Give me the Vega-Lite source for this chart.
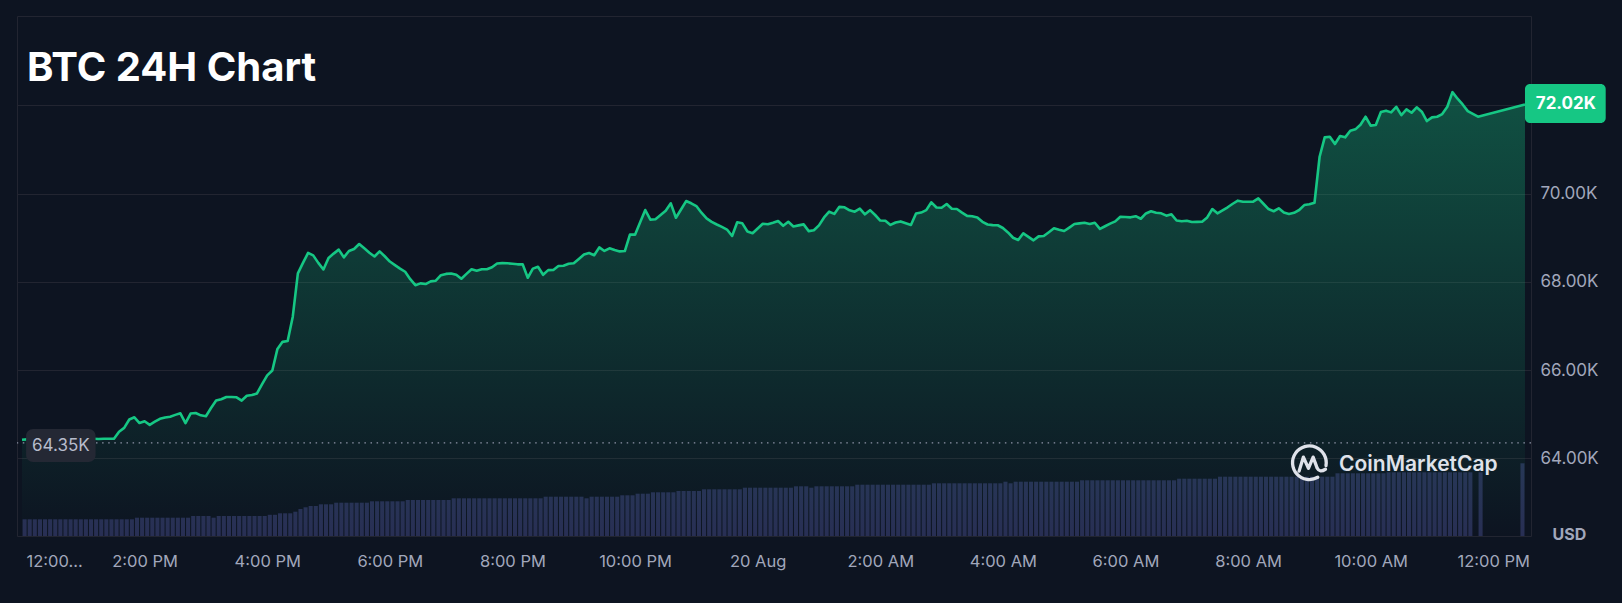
{
  "$schema": "https://vega.github.io/schema/vega-lite/v6.json",
  "width": 1514,
  "height": 520,
  "autosize": {"type": "none"},
  "padding": {"left": 17, "top": 16, "right": 91, "bottom": 67},
  "background": "#0d1421",
  "config": {
    "view": {"stroke": "#222531", "strokeWidth": 1},
    "font": "Inter"
  },
  "title": {
    "text": "BTC 24H Chart",
    "anchor": "start",
    "frame": "group",
    "orient": "top",
    "offset": 0,
    "baseline": "alphabetic",
    "dx": 10,
    "dy": 105,
    "font": "Inter",
    "fontSize": 40,
    "fontWeight": 700,
    "color": "#ffffff"
  },
  "data": {
    "values": [
      {"t": "2024-08-19T12:00", "p": 64420, "v": 4.18},
      {"t": "2024-08-19T12:05", "p": 64430, "v": 4.18},
      {"t": "2024-08-19T12:10", "p": 64440, "v": 4.18},
      {"t": "2024-08-19T12:15", "p": 64435, "v": 4.18},
      {"t": "2024-08-19T12:20", "p": 64440, "v": 4.18},
      {"t": "2024-08-19T12:25", "p": 64450, "v": 4.18},
      {"t": "2024-08-19T12:30", "p": 64445, "v": 4.18},
      {"t": "2024-08-19T12:35", "p": 64440, "v": 4.18},
      {"t": "2024-08-19T12:40", "p": 64445, "v": 4.18},
      {"t": "2024-08-19T12:45", "p": 64450, "v": 4.18},
      {"t": "2024-08-19T12:50", "p": 64445, "v": 4.18},
      {"t": "2024-08-19T12:55", "p": 64440, "v": 4.18},
      {"t": "2024-08-19T13:00", "p": 64445, "v": 4.18},
      {"t": "2024-08-19T13:05", "p": 64450, "v": 4.18},
      {"t": "2024-08-19T13:10", "p": 64445, "v": 4.18},
      {"t": "2024-08-19T13:15", "p": 64440, "v": 4.18},
      {"t": "2024-08-19T13:20", "p": 64445, "v": 4.18},
      {"t": "2024-08-19T13:25", "p": 64445, "v": 4.18},
      {"t": "2024-08-19T13:30", "p": 64445, "v": 4.18},
      {"t": "2024-08-19T13:35", "p": 64604, "v": 4.18},
      {"t": "2024-08-19T13:40", "p": 64690, "v": 4.18},
      {"t": "2024-08-19T13:45", "p": 64880, "v": 4.18},
      {"t": "2024-08-19T13:50", "p": 64930, "v": 4.58},
      {"t": "2024-08-19T13:55", "p": 64800, "v": 4.58},
      {"t": "2024-08-19T14:00", "p": 64840, "v": 4.58},
      {"t": "2024-08-19T14:05", "p": 64760, "v": 4.58},
      {"t": "2024-08-19T14:10", "p": 64830, "v": 4.58},
      {"t": "2024-08-19T14:15", "p": 64895, "v": 4.58},
      {"t": "2024-08-19T14:20", "p": 64925, "v": 4.58},
      {"t": "2024-08-19T14:25", "p": 64944, "v": 4.58},
      {"t": "2024-08-19T14:30", "p": 64985, "v": 4.58},
      {"t": "2024-08-19T14:35", "p": 65021, "v": 4.58},
      {"t": "2024-08-19T14:40", "p": 64800, "v": 4.58},
      {"t": "2024-08-19T14:45", "p": 65015, "v": 5.0},
      {"t": "2024-08-19T14:50", "p": 65027, "v": 5.0},
      {"t": "2024-08-19T14:55", "p": 64975, "v": 5.0},
      {"t": "2024-08-19T15:00", "p": 64955, "v": 5.0},
      {"t": "2024-08-19T15:05", "p": 65140, "v": 4.58},
      {"t": "2024-08-19T15:10", "p": 65310, "v": 5.0},
      {"t": "2024-08-19T15:15", "p": 65340, "v": 5.0},
      {"t": "2024-08-19T15:20", "p": 65390, "v": 5.0},
      {"t": "2024-08-19T15:25", "p": 65390, "v": 5.0},
      {"t": "2024-08-19T15:30", "p": 65383, "v": 5.0},
      {"t": "2024-08-19T15:35", "p": 65310, "v": 5.0},
      {"t": "2024-08-19T15:40", "p": 65420, "v": 5.0},
      {"t": "2024-08-19T15:45", "p": 65435, "v": 5.0},
      {"t": "2024-08-19T15:50", "p": 65470, "v": 5.0},
      {"t": "2024-08-19T15:55", "p": 65680, "v": 5.0},
      {"t": "2024-08-19T16:00", "p": 65880, "v": 5.3},
      {"t": "2024-08-19T16:05", "p": 65990, "v": 5.3},
      {"t": "2024-08-19T16:10", "p": 66480, "v": 5.68},
      {"t": "2024-08-19T16:15", "p": 66640, "v": 5.68},
      {"t": "2024-08-19T16:20", "p": 66659, "v": 5.68},
      {"t": "2024-08-19T16:25", "p": 67210, "v": 6.08},
      {"t": "2024-08-19T16:30", "p": 68193, "v": 6.75},
      {"t": "2024-08-19T16:35", "p": 68430, "v": 7.18},
      {"t": "2024-08-19T16:40", "p": 68655, "v": 7.5},
      {"t": "2024-08-19T16:45", "p": 68600, "v": 7.5},
      {"t": "2024-08-19T16:50", "p": 68430, "v": 7.93},
      {"t": "2024-08-19T16:55", "p": 68280, "v": 7.93},
      {"t": "2024-08-19T17:00", "p": 68540, "v": 7.93},
      {"t": "2024-08-19T17:05", "p": 68640, "v": 8.33},
      {"t": "2024-08-19T17:10", "p": 68730, "v": 8.33},
      {"t": "2024-08-19T17:15", "p": 68556, "v": 8.33},
      {"t": "2024-08-19T17:20", "p": 68698, "v": 8.33},
      {"t": "2024-08-19T17:25", "p": 68744, "v": 8.33},
      {"t": "2024-08-19T17:30", "p": 68857, "v": 8.33},
      {"t": "2024-08-19T17:35", "p": 68760, "v": 8.33},
      {"t": "2024-08-19T17:40", "p": 68660, "v": 8.68},
      {"t": "2024-08-19T17:45", "p": 68575, "v": 8.68},
      {"t": "2024-08-19T17:50", "p": 68690, "v": 8.68},
      {"t": "2024-08-19T17:55", "p": 68580, "v": 8.68},
      {"t": "2024-08-19T18:00", "p": 68460, "v": 8.68},
      {"t": "2024-08-19T18:05", "p": 68380, "v": 8.68},
      {"t": "2024-08-19T18:10", "p": 68300, "v": 8.68},
      {"t": "2024-08-19T18:15", "p": 68229, "v": 9.0},
      {"t": "2024-08-19T18:20", "p": 68060, "v": 9.0},
      {"t": "2024-08-19T18:25", "p": 67925, "v": 9.0},
      {"t": "2024-08-19T18:30", "p": 67965, "v": 9.0},
      {"t": "2024-08-19T18:35", "p": 67950, "v": 9.0},
      {"t": "2024-08-19T18:40", "p": 68010, "v": 9.0},
      {"t": "2024-08-19T18:45", "p": 68026, "v": 9.0},
      {"t": "2024-08-19T18:50", "p": 68150, "v": 9.0},
      {"t": "2024-08-19T18:55", "p": 68180, "v": 9.0},
      {"t": "2024-08-19T19:00", "p": 68190, "v": 9.43},
      {"t": "2024-08-19T19:05", "p": 68160, "v": 9.43},
      {"t": "2024-08-19T19:10", "p": 68070, "v": 9.43},
      {"t": "2024-08-19T19:15", "p": 68180, "v": 9.43},
      {"t": "2024-08-19T19:20", "p": 68284, "v": 9.43},
      {"t": "2024-08-19T19:25", "p": 68252, "v": 9.43},
      {"t": "2024-08-19T19:30", "p": 68285, "v": 9.43},
      {"t": "2024-08-19T19:35", "p": 68285, "v": 9.43},
      {"t": "2024-08-19T19:40", "p": 68330, "v": 9.43},
      {"t": "2024-08-19T19:45", "p": 68415, "v": 9.43},
      {"t": "2024-08-19T19:50", "p": 68425, "v": 9.43},
      {"t": "2024-08-19T19:55", "p": 68420, "v": 9.43},
      {"t": "2024-08-19T20:00", "p": 68410, "v": 9.43},
      {"t": "2024-08-19T20:05", "p": 68397, "v": 9.43},
      {"t": "2024-08-19T20:10", "p": 68397, "v": 9.43},
      {"t": "2024-08-19T20:15", "p": 68093, "v": 9.43},
      {"t": "2024-08-19T20:20", "p": 68300, "v": 9.43},
      {"t": "2024-08-19T20:25", "p": 68343, "v": 9.43},
      {"t": "2024-08-19T20:30", "p": 68160, "v": 9.83},
      {"t": "2024-08-19T20:35", "p": 68265, "v": 9.83},
      {"t": "2024-08-19T20:40", "p": 68268, "v": 9.83},
      {"t": "2024-08-19T20:45", "p": 68360, "v": 9.83},
      {"t": "2024-08-19T20:50", "p": 68365, "v": 9.83},
      {"t": "2024-08-19T20:55", "p": 68410, "v": 9.83},
      {"t": "2024-08-19T21:00", "p": 68420, "v": 9.83},
      {"t": "2024-08-19T21:05", "p": 68520, "v": 9.83},
      {"t": "2024-08-19T21:10", "p": 68619, "v": 9.43},
      {"t": "2024-08-19T21:15", "p": 68653, "v": 9.83},
      {"t": "2024-08-19T21:20", "p": 68603, "v": 9.83},
      {"t": "2024-08-19T21:25", "p": 68782, "v": 9.83},
      {"t": "2024-08-19T21:30", "p": 68700, "v": 9.83},
      {"t": "2024-08-19T21:35", "p": 68760, "v": 9.83},
      {"t": "2024-08-19T21:40", "p": 68720, "v": 9.83},
      {"t": "2024-08-19T21:45", "p": 68690, "v": 10.18},
      {"t": "2024-08-19T21:50", "p": 68698, "v": 10.18},
      {"t": "2024-08-19T21:55", "p": 69070, "v": 10.18},
      {"t": "2024-08-19T22:00", "p": 69070, "v": 10.58},
      {"t": "2024-08-19T22:05", "p": 69350, "v": 10.58},
      {"t": "2024-08-19T22:10", "p": 69628, "v": 10.58},
      {"t": "2024-08-19T22:15", "p": 69410, "v": 10.93},
      {"t": "2024-08-19T22:20", "p": 69417, "v": 10.93},
      {"t": "2024-08-19T22:25", "p": 69514, "v": 10.93},
      {"t": "2024-08-19T22:30", "p": 69612, "v": 10.93},
      {"t": "2024-08-19T22:35", "p": 69779, "v": 10.93},
      {"t": "2024-08-19T22:40", "p": 69453, "v": 11.25},
      {"t": "2024-08-19T22:45", "p": 69640, "v": 11.25},
      {"t": "2024-08-19T22:50", "p": 69831, "v": 11.25},
      {"t": "2024-08-19T22:55", "p": 69780, "v": 11.25},
      {"t": "2024-08-19T23:00", "p": 69718, "v": 11.25},
      {"t": "2024-08-19T23:05", "p": 69566, "v": 11.68},
      {"t": "2024-08-19T23:10", "p": 69439, "v": 11.68},
      {"t": "2024-08-19T23:15", "p": 69360, "v": 11.68},
      {"t": "2024-08-19T23:20", "p": 69300, "v": 11.68},
      {"t": "2024-08-19T23:25", "p": 69245, "v": 11.68},
      {"t": "2024-08-19T23:30", "p": 69185, "v": 11.68},
      {"t": "2024-08-19T23:35", "p": 69040, "v": 11.68},
      {"t": "2024-08-19T23:40", "p": 69349, "v": 11.68},
      {"t": "2024-08-19T23:45", "p": 69326, "v": 12.08},
      {"t": "2024-08-19T23:50", "p": 69140, "v": 12.08},
      {"t": "2024-08-19T23:55", "p": 69100, "v": 12.08},
      {"t": "2024-08-20T00:00", "p": 69210, "v": 12.08},
      {"t": "2024-08-20T00:05", "p": 69317, "v": 12.08},
      {"t": "2024-08-20T00:10", "p": 69305, "v": 12.08},
      {"t": "2024-08-20T00:15", "p": 69340, "v": 12.08},
      {"t": "2024-08-20T00:20", "p": 69378, "v": 12.08},
      {"t": "2024-08-20T00:25", "p": 69270, "v": 12.08},
      {"t": "2024-08-20T00:30", "p": 69362, "v": 12.08},
      {"t": "2024-08-20T00:35", "p": 69255, "v": 12.43},
      {"t": "2024-08-20T00:40", "p": 69280, "v": 12.43},
      {"t": "2024-08-20T00:45", "p": 69303, "v": 12.43},
      {"t": "2024-08-20T00:50", "p": 69150, "v": 12.08},
      {"t": "2024-08-20T00:55", "p": 69170, "v": 12.43},
      {"t": "2024-08-20T01:00", "p": 69280, "v": 12.43},
      {"t": "2024-08-20T01:05", "p": 69460, "v": 12.43},
      {"t": "2024-08-20T01:10", "p": 69590, "v": 12.43},
      {"t": "2024-08-20T01:15", "p": 69540, "v": 12.43},
      {"t": "2024-08-20T01:20", "p": 69700, "v": 12.43},
      {"t": "2024-08-20T01:25", "p": 69690, "v": 12.43},
      {"t": "2024-08-20T01:30", "p": 69620, "v": 12.43},
      {"t": "2024-08-20T01:35", "p": 69590, "v": 12.83},
      {"t": "2024-08-20T01:40", "p": 69660, "v": 12.83},
      {"t": "2024-08-20T01:45", "p": 69530, "v": 12.83},
      {"t": "2024-08-20T01:50", "p": 69625, "v": 12.83},
      {"t": "2024-08-20T01:55", "p": 69515, "v": 12.83},
      {"t": "2024-08-20T02:00", "p": 69390, "v": 12.83},
      {"t": "2024-08-20T02:05", "p": 69385, "v": 12.83},
      {"t": "2024-08-20T02:10", "p": 69290, "v": 12.83},
      {"t": "2024-08-20T02:15", "p": 69345, "v": 12.83},
      {"t": "2024-08-20T02:20", "p": 69370, "v": 12.83},
      {"t": "2024-08-20T02:25", "p": 69330, "v": 12.83},
      {"t": "2024-08-20T02:30", "p": 69290, "v": 12.83},
      {"t": "2024-08-20T02:35", "p": 69550, "v": 12.83},
      {"t": "2024-08-20T02:40", "p": 69570, "v": 12.83},
      {"t": "2024-08-20T02:45", "p": 69625, "v": 12.83},
      {"t": "2024-08-20T02:50", "p": 69802, "v": 13.18},
      {"t": "2024-08-20T02:55", "p": 69685, "v": 13.18},
      {"t": "2024-08-20T03:00", "p": 69680, "v": 13.18},
      {"t": "2024-08-20T03:05", "p": 69763, "v": 13.18},
      {"t": "2024-08-20T03:10", "p": 69655, "v": 13.18},
      {"t": "2024-08-20T03:15", "p": 69650, "v": 13.18},
      {"t": "2024-08-20T03:20", "p": 69570, "v": 13.18},
      {"t": "2024-08-20T03:25", "p": 69495, "v": 13.18},
      {"t": "2024-08-20T03:30", "p": 69485, "v": 13.18},
      {"t": "2024-08-20T03:35", "p": 69460, "v": 13.18},
      {"t": "2024-08-20T03:40", "p": 69360, "v": 13.18},
      {"t": "2024-08-20T03:45", "p": 69300, "v": 13.18},
      {"t": "2024-08-20T03:50", "p": 69285, "v": 13.18},
      {"t": "2024-08-20T03:55", "p": 69283, "v": 13.18},
      {"t": "2024-08-20T04:00", "p": 69220, "v": 13.58},
      {"t": "2024-08-20T04:05", "p": 69120, "v": 13.18},
      {"t": "2024-08-20T04:10", "p": 69000, "v": 13.58},
      {"t": "2024-08-20T04:15", "p": 68948, "v": 13.58},
      {"t": "2024-08-20T04:20", "p": 69100, "v": 13.58},
      {"t": "2024-08-20T04:25", "p": 69020, "v": 13.58},
      {"t": "2024-08-20T04:30", "p": 68941, "v": 13.58},
      {"t": "2024-08-20T04:35", "p": 69030, "v": 13.58},
      {"t": "2024-08-20T04:40", "p": 69038, "v": 13.58},
      {"t": "2024-08-20T04:45", "p": 69125, "v": 13.58},
      {"t": "2024-08-20T04:50", "p": 69213, "v": 13.58},
      {"t": "2024-08-20T04:55", "p": 69180, "v": 13.58},
      {"t": "2024-08-20T05:00", "p": 69152, "v": 13.58},
      {"t": "2024-08-20T05:05", "p": 69230, "v": 13.58},
      {"t": "2024-08-20T05:10", "p": 69310, "v": 13.58},
      {"t": "2024-08-20T05:15", "p": 69325, "v": 13.93},
      {"t": "2024-08-20T05:20", "p": 69340, "v": 13.93},
      {"t": "2024-08-20T05:25", "p": 69312, "v": 13.93},
      {"t": "2024-08-20T05:30", "p": 69340, "v": 13.93},
      {"t": "2024-08-20T05:35", "p": 69200, "v": 13.93},
      {"t": "2024-08-20T05:40", "p": 69260, "v": 13.93},
      {"t": "2024-08-20T05:45", "p": 69320, "v": 13.93},
      {"t": "2024-08-20T05:50", "p": 69370, "v": 13.93},
      {"t": "2024-08-20T05:55", "p": 69476, "v": 13.93},
      {"t": "2024-08-20T06:00", "p": 69470, "v": 13.93},
      {"t": "2024-08-20T06:05", "p": 69462, "v": 13.93},
      {"t": "2024-08-20T06:10", "p": 69488, "v": 13.93},
      {"t": "2024-08-20T06:15", "p": 69430, "v": 13.93},
      {"t": "2024-08-20T06:20", "p": 69550, "v": 13.93},
      {"t": "2024-08-20T06:25", "p": 69600, "v": 13.93},
      {"t": "2024-08-20T06:30", "p": 69566, "v": 13.93},
      {"t": "2024-08-20T06:35", "p": 69553, "v": 13.93},
      {"t": "2024-08-20T06:40", "p": 69500, "v": 13.93},
      {"t": "2024-08-20T06:45", "p": 69530, "v": 13.93},
      {"t": "2024-08-20T06:50", "p": 69390, "v": 14.33},
      {"t": "2024-08-20T06:55", "p": 69375, "v": 14.33},
      {"t": "2024-08-20T07:00", "p": 69385, "v": 14.33},
      {"t": "2024-08-20T07:05", "p": 69356, "v": 14.33},
      {"t": "2024-08-20T07:10", "p": 69360, "v": 14.33},
      {"t": "2024-08-20T07:15", "p": 69362, "v": 14.33},
      {"t": "2024-08-20T07:20", "p": 69460, "v": 14.33},
      {"t": "2024-08-20T07:25", "p": 69650, "v": 14.33},
      {"t": "2024-08-20T07:30", "p": 69553, "v": 14.83},
      {"t": "2024-08-20T07:35", "p": 69620, "v": 14.83},
      {"t": "2024-08-20T07:40", "p": 69690, "v": 14.83},
      {"t": "2024-08-20T07:45", "p": 69770, "v": 14.83},
      {"t": "2024-08-20T07:50", "p": 69840, "v": 14.83},
      {"t": "2024-08-20T07:55", "p": 69816, "v": 14.83},
      {"t": "2024-08-20T08:00", "p": 69816, "v": 14.83},
      {"t": "2024-08-20T08:05", "p": 69816, "v": 14.83},
      {"t": "2024-08-20T08:10", "p": 69890, "v": 14.83},
      {"t": "2024-08-20T08:15", "p": 69770, "v": 14.83},
      {"t": "2024-08-20T08:20", "p": 69650, "v": 14.83},
      {"t": "2024-08-20T08:25", "p": 69600, "v": 14.83},
      {"t": "2024-08-20T08:30", "p": 69666, "v": 14.83},
      {"t": "2024-08-20T08:35", "p": 69570, "v": 14.83},
      {"t": "2024-08-20T08:40", "p": 69540, "v": 14.83},
      {"t": "2024-08-20T08:45", "p": 69565, "v": 14.83},
      {"t": "2024-08-20T08:50", "p": 69628, "v": 14.83},
      {"t": "2024-08-20T08:55", "p": 69740, "v": 14.83},
      {"t": "2024-08-20T09:00", "p": 69757, "v": 14.83},
      {"t": "2024-08-20T09:05", "p": 69793, "v": 14.83},
      {"t": "2024-08-20T09:10", "p": 70835, "v": 14.83},
      {"t": "2024-08-20T09:15", "p": 71275, "v": 14.83},
      {"t": "2024-08-20T09:20", "p": 71289, "v": 14.83},
      {"t": "2024-08-20T09:25", "p": 71123, "v": 15.68},
      {"t": "2024-08-20T09:30", "p": 71304, "v": 15.68},
      {"t": "2024-08-20T09:35", "p": 71275, "v": 15.68},
      {"t": "2024-08-20T09:40", "p": 71424, "v": 15.68},
      {"t": "2024-08-20T09:45", "p": 71456, "v": 15.68},
      {"t": "2024-08-20T09:50", "p": 71560, "v": 15.68},
      {"t": "2024-08-20T09:55", "p": 71742, "v": 15.68},
      {"t": "2024-08-20T10:00", "p": 71540, "v": 15.68},
      {"t": "2024-08-20T10:05", "p": 71554, "v": 15.68},
      {"t": "2024-08-20T10:10", "p": 71850, "v": 15.68},
      {"t": "2024-08-20T10:15", "p": 71880, "v": 15.93},
      {"t": "2024-08-20T10:20", "p": 71841, "v": 15.93},
      {"t": "2024-08-20T10:25", "p": 71968, "v": 15.93},
      {"t": "2024-08-20T10:30", "p": 71780, "v": 15.93},
      {"t": "2024-08-20T10:35", "p": 71909, "v": 15.93},
      {"t": "2024-08-20T10:40", "p": 71832, "v": 15.93},
      {"t": "2024-08-20T10:45", "p": 71955, "v": 15.93},
      {"t": "2024-08-20T10:50", "p": 71855, "v": 15.93},
      {"t": "2024-08-20T10:55", "p": 71644, "v": 15.93},
      {"t": "2024-08-20T11:00", "p": 71728, "v": 15.93},
      {"t": "2024-08-20T11:05", "p": 71742, "v": 15.93},
      {"t": "2024-08-20T11:10", "p": 71803, "v": 15.93},
      {"t": "2024-08-20T11:15", "p": 71968, "v": 15.93},
      {"t": "2024-08-20T11:20", "p": 72300, "v": 15.93},
      {"t": "2024-08-20T11:25", "p": 72150, "v": 15.93},
      {"t": "2024-08-20T11:30", "p": 72020, "v": 15.93},
      {"t": "2024-08-20T11:35", "p": 71870, "v": 15.93},
      {"t": "2024-08-20T11:45", "p": 71742, "v": 15.93},
      {"t": "2024-08-20T12:26", "v": 18.18},
      {"t": "2024-08-20T12:31", "p": 72020}
    ]
  },
  "layer": [
    {
      "transform": [{"filter": "isValid(datum.v)"}],
      "mark": {"type": "bar", "color": "#282f54", "size": 4.1, "xOffset": 2.6},
      "encoding": {
        "x": {
          "field": "t",
          "type": "temporal",
          "scale": {
            "domain": [
              {"year": 2024, "month": 8, "date": 19, "hours": 12},
              {"year": 2024, "month": 8, "date": 20, "hours": 12, "minutes": 32}
            ]
          },
          "axis": {
            "title": null,
            "values": [
              {"year": 2024, "month": 8, "date": 19, "hours": 12},
              {"year": 2024, "month": 8, "date": 19, "hours": 14},
              {"year": 2024, "month": 8, "date": 19, "hours": 16},
              {"year": 2024, "month": 8, "date": 19, "hours": 18},
              {"year": 2024, "month": 8, "date": 19, "hours": 20},
              {"year": 2024, "month": 8, "date": 19, "hours": 22},
              {"year": 2024, "month": 8, "date": 20, "hours": 0},
              {"year": 2024, "month": 8, "date": 20, "hours": 2},
              {"year": 2024, "month": 8, "date": 20, "hours": 4},
              {"year": 2024, "month": 8, "date": 20, "hours": 6},
              {"year": 2024, "month": 8, "date": 20, "hours": 8},
              {"year": 2024, "month": 8, "date": 20, "hours": 10},
              {"year": 2024, "month": 8, "date": 20, "hours": 12}
            ],
            "labelExpr": "date(datum.value) == 19 && hours(datum.value) == 12 ? '12:00...' : hours(datum.value) == 0 ? timeFormat(datum.value, '%d %b') : timeFormat(datum.value, '%-I:%M %p')",
            "labelAlign": {"condition": {"test": "date(datum.value) == 19 && hours(datum.value) == 12", "value": "left"}, "value": "center"},
            "labelOffset": {"condition": {"test": "date(datum.value) == 19 && hours(datum.value) == 12", "value": 4}, "value": 0},
            "labelFlush": false,
            "labelOverlap": false,
            "labelBaseline": "alphabetic",
            "labelPadding": 30,
            "labelFont": "Inter",
            "labelFontSize": 16.5,
            "labelColor": "#a1a7bb",
            "domain": false,
            "ticks": false,
            "grid": false
          }
        },
        "y": {
          "field": "v",
          "type": "quantitative",
          "scale": {"domain": [0, 130], "nice": false},
          "axis": null
        }
      }
    },
    {
      "layer": [
        {
          "transform": [{"filter": "isValid(datum.p)"}],
          "encoding": {
            "x": {"field": "t", "type": "temporal"},
            "y": {
              "field": "p",
              "type": "quantitative",
              "scale": {"domain": [62240, 74025], "nice": false, "zero": false},
              "axis": {
                "orient": "right",
                "values": [64000, 66000, 68000, 70000, 72000],
                "labelExpr": "datum.value == 72000 ? '' : format(datum.value / 1000, '.2f') + 'K'",
                "grid": true,
                "gridColor": "#222531",
                "gridWidth": 1,
                "domain": false,
                "ticks": false,
                "labelPadding": 9,
                "labelFont": "Inter",
                "labelFontSize": 17,
                "labelColor": "#a1a7bb",
                "labelBaseline": "middle",
                "title": "USD",
                "titleAngle": 0,
                "titleX": 21,
                "titleY": 523,
                "titleAlign": "left",
                "titleBaseline": "alphabetic",
                "titleFont": "Inter",
                "titleFontSize": 16,
                "titleFontWeight": 700,
                "titleColor": "#a1a7bb"
              }
            }
          },
          "layer": [
            {
              "mark": {
                "type": "area",
                "color": {
                  "gradient": "linear",
                  "x1": 0, "y1": 0, "x2": 0, "y2": 1,
                  "stops": [
                    {"offset": 0, "color": "rgba(22,199,132,0.34)"},
                    {"offset": 1, "color": "rgba(22,199,132,0)"}
                  ]
                }
              },
              "encoding": {"y2": {"datum": 62240}}
            },
            {
              "mark": {"type": "line", "color": "#16c784", "strokeWidth": 2.6, "strokeJoin": "round"}
            }
          ]
        },
        {
          "data": {"values": [{"open": 64350}]},
          "mark": {"type": "rule", "color": "#8d93a6", "strokeDash": [1.5, 4.6], "strokeWidth": 1.4},
          "encoding": {"y": {"field": "open", "type": "quantitative"}}
        },
        {
          "data": {"values": [{}]},
          "mark": {"type": "rect", "color": "#242834", "cornerRadius": 7},
          "encoding": {
            "x": {"datum": {"year": 2024, "month": 8, "date": 19, "hours": 12, "minutes": 4}, "type": "temporal"},
            "x2": {"datum": {"year": 2024, "month": 8, "date": 19, "hours": 13, "minutes": 12}},
            "y": {"datum": 64665, "type": "quantitative"},
            "y2": {"datum": 63917}
          }
        },
        {
          "data": {"values": [{}]},
          "mark": {"type": "text", "text": "64.35K", "font": "Inter", "fontSize": 17, "color": "#b7bccb", "align": "center", "baseline": "middle"},
          "encoding": {
            "x": {"datum": {"year": 2024, "month": 8, "date": 19, "hours": 12, "minutes": 38}, "type": "temporal"},
            "y": {"datum": 64291, "type": "quantitative"}
          }
        },
        {
          "data": {"values": [{}]},
          "mark": {"type": "rect", "color": "#16c784", "cornerRadius": 5},
          "encoding": {
            "x": {"datum": {"year": 2024, "month": 8, "date": 20, "hours": 12, "minutes": 31}, "type": "temporal"},
            "x2": {"datum": {"year": 2024, "month": 8, "date": 20, "hours": 13, "minutes": 50}},
            "y": {"datum": 72483, "type": "quantitative"},
            "y2": {"datum": 71599}
          }
        },
        {
          "data": {"values": [{}]},
          "mark": {"type": "text", "text": "72.02K", "font": "Inter", "fontSize": 17, "fontWeight": 700, "color": "#ffffff", "align": "center", "baseline": "middle"},
          "encoding": {
            "x": {"datum": {"year": 2024, "month": 8, "date": 20, "hours": 13, "minutes": 11}, "type": "temporal"},
            "y": {"datum": 72041, "type": "quantitative"}
          }
        },
        {
          "data": {"values": [{}]},
          "mark": {
            "type": "point",
            "shape": "M0.45,0.78 A0.9,0.9 0 1 1 0.886,0.156 M-0.55,0.45 L-0.32,-0.3 L-0.05,0.3 L0.2,-0.3 L0.42,0.3 Q0.55,0.55 0.86,0.35",
            "size": 1400,
            "filled": false,
            "stroke": "#dfe2ea",
            "strokeWidth": 3.3,
            "strokeCap": "round",
            "strokeJoin": "round",
            "opacity": 1
          },
          "encoding": {
            "x": {"datum": {"year": 2024, "month": 8, "date": 20, "hours": 9, "minutes": 0}, "type": "temporal"},
            "y": {"datum": 63901, "type": "quantitative"}
          }
        },
        {
          "data": {"values": [{}]},
          "mark": {"type": "text", "text": "CoinMarketCap", "font": "Inter", "fontSize": 21, "fontWeight": 600, "color": "#dfe2ea", "align": "left", "baseline": "alphabetic"},
          "encoding": {
            "x": {"datum": {"year": 2024, "month": 8, "date": 20, "hours": 9, "minutes": 29}, "type": "temporal"},
            "y": {"datum": 63720, "type": "quantitative"}
          }
        }
      ]
    }
  ],
  "resolve": {"scale": {"y": "independent"}}
}
